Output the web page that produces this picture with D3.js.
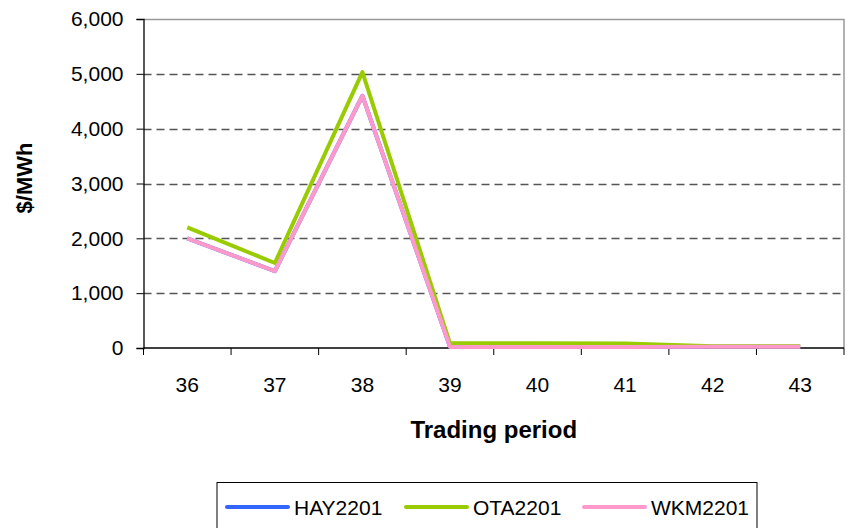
<!DOCTYPE html>
<html>
<head>
<meta charset="utf-8">
<script src="https://cdn.jsdelivr.net/npm/d3@7"></script>
<style>
  body { margin: 0; background: #fff; }
  text { font-family: "Liberation Sans", Arial, sans-serif; fill: #000; }
</style>
</head>
<body>
<div id="chart"></div>
<script>
var width = 859,
    height = 528;

// data
var periods = ["36", "37", "38", "39", "40", "41", "42", "43"];
var hay = [2000, 1400, 4600, 20, 20, 20, 25, 25];
var ota = [2200, 1550, 5030, 85, 85, 80, 30, 30];
var wkm = [2000, 1400, 4600, 20, 20, 20, 25, 25];
var yTicks = [0, 1000, 2000, 3000, 4000, 5000, 6000];

var series = [
  {name: "HAY2201", values: hay, color: "#3366ff"},
  {name: "OTA2201", values: ota, color: "#99cc00"},
  {name: "WKM2201", values: wkm, color: "#ff99cc"}
];

var plot = {left: 143.5, top: 19, right: 844, bottom: 348};

var svg = d3.select("#chart").append("svg")
    .attr("width", width)
    .attr("height", height);

var x = d3.scaleBand()
    .domain(periods)
    .range([plot.left, plot.right]);

var y = d3.scaleLinear()
    .domain([0, 6000])
    .range([plot.bottom, plot.top]);

// gridlines
svg.append("g")
  .selectAll("line")
  .data(yTicks.filter(function(d) { return d > 0 && d < 6000; }))
  .enter().append("line")
    .attr("x1", plot.left)
    .attr("x2", plot.right)
    .attr("y1", function(d) { return Math.round(y(d)) + 0.5; })
    .attr("y2", function(d) { return Math.round(y(d)) + 0.5; })
    .attr("stroke", "#555")
    .attr("stroke-width", 1.3)
    .attr("stroke-dasharray", "8,5");

// top and right border of plot area
svg.append("path")
    .attr("d", "M" + plot.left + "," + (plot.top + 0.5) + "H" + plot.right + "V" + plot.bottom)
    .attr("fill", "none")
    .attr("stroke", "#999")
    .attr("stroke-width", 1.5);

// y axis
var yAxis = svg.append("g")
    .attr("transform", "translate(" + plot.left + ",0)")
    .call(d3.axisLeft(y).tickValues(yTicks).tickSize(7).tickPadding(13).tickFormat(d3.format(",")));
yAxis.select(".domain").attr("stroke", "#000").attr("stroke-width", 1.3);
yAxis.selectAll(".tick line").attr("stroke", "#000");
yAxis.selectAll("text")
    .style("font-size", "21px")
    .attr("font-family", "Liberation Sans, Arial, sans-serif");

// x axis: ticks on category boundaries
var xAxis = svg.append("g")
    .attr("transform", "translate(0," + plot.bottom + ")");
xAxis.append("line")
    .attr("x1", plot.left)
    .attr("x2", plot.right)
    .attr("stroke", "#000")
    .attr("stroke-width", 1.3);
xAxis.selectAll(".xtick")
  .data(periods.concat(["end"]))
  .enter().append("line")
    .attr("class", "xtick")
    .attr("x1", function(d, i) { return plot.left + i * x.bandwidth(); })
    .attr("x2", function(d, i) { return plot.left + i * x.bandwidth(); })
    .attr("y1", 0)
    .attr("y2", 7)
    .attr("stroke", "#000");
xAxis.selectAll(".xlabel")
  .data(periods)
  .enter().append("text")
    .attr("class", "xlabel")
    .attr("x", function(d) { return x(d) + x.bandwidth() / 2; })
    .attr("y", 44)
    .attr("text-anchor", "middle")
    .style("font-size", "21px")
    .text(function(d) { return d; });

// lines
var line = d3.line()
    .x(function(d, i) { return x(periods[i]) + x.bandwidth() / 2; })
    .y(function(d) { return y(d); });

svg.append("g")
  .selectAll("path")
  .data(series)
  .enter().append("path")
    .attr("d", function(d) { return line(d.values); })
    .attr("fill", "none")
    .attr("stroke", function(d) { return d.color; })
    .attr("stroke-width", 4)
    .attr("stroke-linejoin", "round");

// axis titles
svg.append("text")
    .attr("x", (plot.left + plot.right) / 2)
    .attr("y", 438)
    .attr("text-anchor", "middle")
    .style("font-size", "24px")
    .style("font-weight", "bold")
    .text("Trading period");

svg.append("text")
    .attr("transform", "translate(32,178) rotate(-90)")
    .attr("text-anchor", "middle")
    .style("font-size", "22px")
    .style("font-weight", "bold")
    .text("$/MWh");

// legend
var legend = svg.append("g");
legend.append("rect")
    .attr("x", 217)
    .attr("y", 482.5)
    .attr("width", 540)
    .attr("height", 60)
    .attr("fill", "#fff")
    .attr("stroke", "#000")
    .attr("stroke-width", 1);

var legendX = [227, 406, 584];
var item = legend.selectAll(".item")
  .data(series)
  .enter().append("g")
    .attr("class", "item")
    .attr("transform", function(d, i) { return "translate(" + legendX[i] + ",507)"; });
item.append("line")
    .attr("x1", 0)
    .attr("x2", 61)
    .attr("stroke", function(d) { return d.color; })
    .attr("stroke-width", 4)
    .attr("stroke-linecap", "round");
item.append("text")
    .attr("x", 67)
    .attr("y", 8)
    .style("font-size", "21px")
    .text(function(d) { return d.name; });
</script>
</body>
</html>
